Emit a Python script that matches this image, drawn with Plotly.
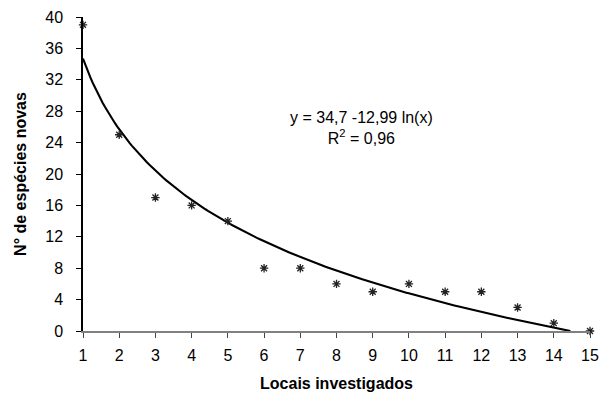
import numpy as np
import plotly.graph_objects as go

locais = [1, 2, 3, 4, 5, 6, 7, 8, 9, 10, 11, 12, 13, 14, 15]
especies_novas = [39, 25, 17, 16, 14, 8, 8, 6, 5, 6, 5, 5, 3, 1, 0]
coef_a = 34.7
coef_b = -12.99
x_ticks = list(range(1, 16))
y_ticks = list(range(0, 41, 4))

# trend line from the displayed log equation, until it reaches zero
x_end = float(np.exp(-coef_a / coef_b))
xt = np.linspace(1, x_end, 200)
yt = coef_a + coef_b * np.log(xt)

font = "Liberation Sans, Arial, sans-serif"

fig = go.Figure()
fig.add_trace(go.Scatter(x=xt, y=yt, mode="lines",
                         line=dict(color="black", width=2.1),
                         hoverinfo="skip", showlegend=False, cliponaxis=False))
fig.add_trace(go.Scatter(x=locais, y=especies_novas, mode="markers",
                         marker=dict(symbol="asterisk-open", size=7, color="#222",
                                     line=dict(color="#222", width=1.3)),
                         cliponaxis=False, showlegend=False))

fig.add_annotation(x=(357 - 83) / (582 - 83), y=(331 - 128) / (331 - 17),
                   xref="paper", yref="paper",
                   text="y = 34,7 -12,99 ln(x)<br>R<sup>2</sup> = 0,96",
                   showarrow=False, align="center",
                   font=dict(family=font, size=16, color="black"),
                   xanchor="center", yanchor="middle")

# page body has an 8px margin, so the figure is 8px smaller and margins shifted
fig.update_layout(
    width=601, height=390,
    margin=dict(l=75, r=19, t=9, b=67),
    plot_bgcolor="white", paper_bgcolor="white",
    font=dict(family=font, size=16, color="black"),
    xaxis=dict(range=[1, 15], tickvals=x_ticks, showgrid=False, zeroline=False,
               showline=True, linecolor="#808080", linewidth=1.5,
               ticks="outside", ticklen=5, tickcolor="#444", tickwidth=1,
               ticklabelstandoff=4, automargin=False,
               tickfont=dict(family=font, size=16),
               title=dict(text="<b>Locais investigados</b>",
                          font=dict(family=font, size=16))),
    yaxis=dict(range=[0, 40], tickvals=y_ticks, showgrid=False, zeroline=False,
               showline=True, linecolor="black", linewidth=1.5,
               ticks="outside", ticklen=5, tickcolor="black", tickwidth=1,
               ticklabelstandoff=10, automargin=False,
               tickfont=dict(family=font, size=16),
               title=dict(text="<b>N° de espécies novas</b>",
                          font=dict(family=font, size=16))),
)

fig.write_html("out.html")
